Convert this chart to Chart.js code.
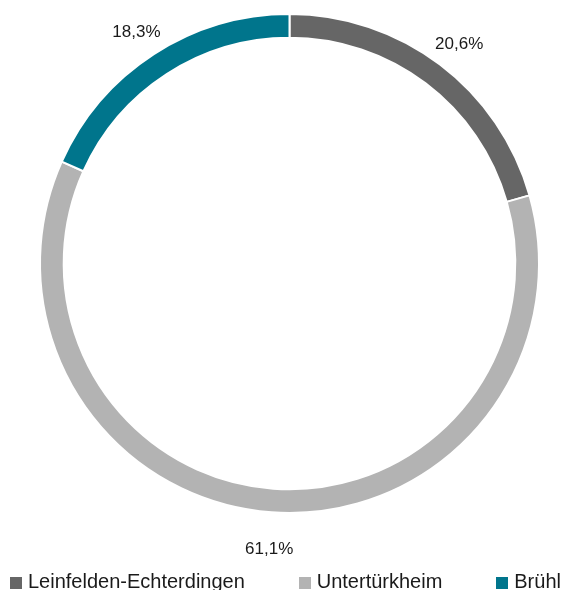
<!DOCTYPE html>
<html>
<head>
<meta charset="utf-8">
<script src="https://cdn.jsdelivr.net/npm/chart.js@4"></script>
<style>
  html, body { margin: 0; padding: 0; background: #fff; overflow: hidden; }
  #wrap { position: relative; width: 563px; height: 590px; }
  #legend {
    position: absolute; left: 10px; right: 2px; top: 569px; height: 24px;
    display: flex; justify-content: space-between;
    font-family: "Liberation Sans", Arial, sans-serif; font-size: 20px;
    line-height: 24px; color: #1a1a1a;
  }
  #legend span.box { display: inline-block; width: 12px; height: 12px; margin-right: 6px; vertical-align: -1px; }
</style>
</head>
<body>
<div id="wrap">
  <canvas id="standortChart"></canvas>
  <div id="legend"></div>
</div>
<script>
const standorte = ["Leinfelden-Echterdingen", "Untertürkheim", "Brühl"];
const anteile = [20.6, 61.1, 18.3];
const farben = ["#666666", "#b3b3b3", "#00758c"];

function prozent(value) {
  return value.toLocaleString("de-DE", { minimumFractionDigits: 1 }) + "%";
}

// Prozentwerte außen neben den Ring schreiben
const outerLabels = {
  id: "outerLabels",
  afterDatasetsDraw(chart) {
    const ctx = chart.ctx;
    const meta = chart.getDatasetMeta(0);
    ctx.save();
    ctx.font = "17px 'Liberation Sans', Arial, sans-serif";
    ctx.fillStyle = "#1a1a1a";
    ctx.textAlign = "center";
    ctx.textBaseline = "alphabetic";
    meta.data.forEach((arc, i) => {
      const p = arc.getProps(["x", "y", "startAngle", "endAngle", "outerRadius"], true);
      const mid = (p.startAngle + p.endAngle) / 2;
      const r = p.outerRadius + 32;
      ctx.fillText(prozent(anteile[i]), p.x + Math.cos(mid) * r, p.y + Math.sin(mid) * r + 10);
    });
    ctx.restore();
  }
};

function loadStandortChart() {
  const canvas = document.getElementById("standortChart");
  if (!canvas) return;

  const chart = new Chart(canvas, {
    type: "doughnut",
    data: {
      labels: standorte,
      datasets: [{
        data: anteile,
        backgroundColor: farben,
        borderColor: "#ffffff",
        borderWidth: 2
      }]
    },
    options: {
      responsive: true,
      maintainAspectRatio: false,
      animation: false,
      cutout: "90.5%",
      layout: { padding: { left: 39, right: 23, top: 13, bottom: 76 } },
      plugins: {
        legend: { display: false },
        tooltip: { enabled: false }
      }
    },
    plugins: [outerLabels]
  });

  const legend = document.getElementById("legend");
  chart.data.labels.forEach((label, i) => {
    const item = document.createElement("div");
    item.innerHTML = '<span class="box" style="background:' + farben[i] + '"></span>' + label;
    legend.appendChild(item);
  });
}

loadStandortChart();
</script>
</body>
</html>
